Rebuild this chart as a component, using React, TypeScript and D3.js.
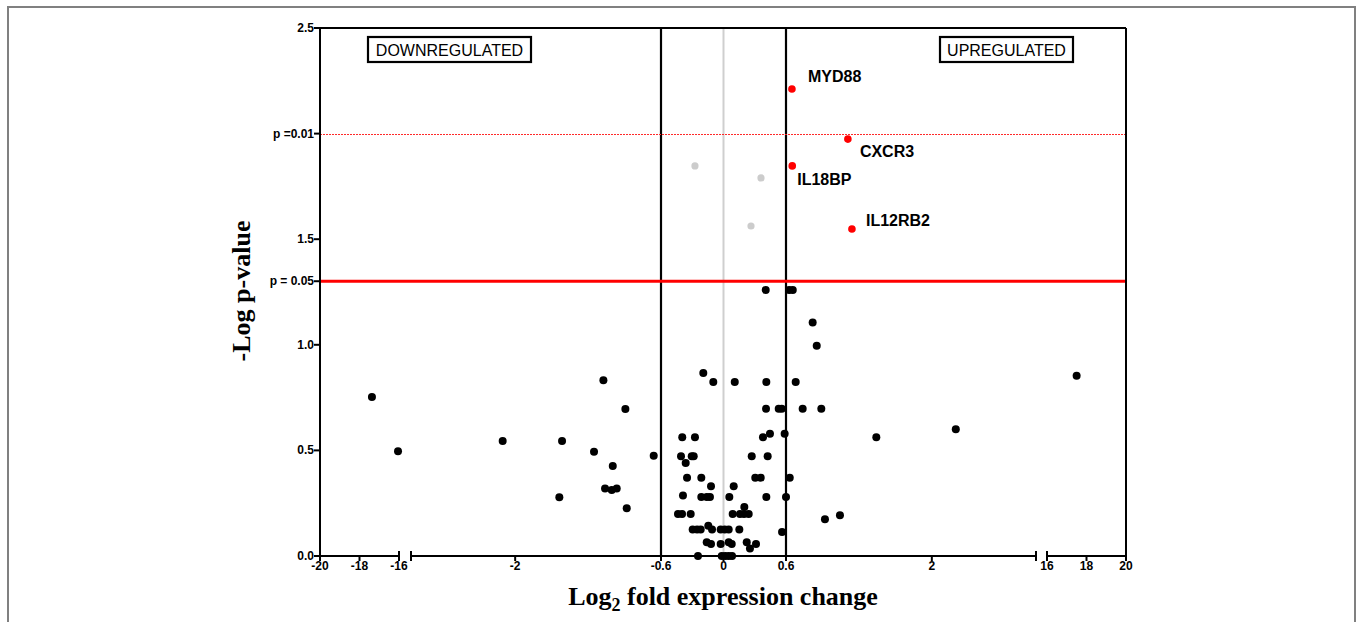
import React from "react";
import * as d3 from "d3";

// ---- data ----
const blackX = [
  0.405, 0.63, 0.665, 0.856, 0.895, -0.194, -0.098, 0.108, 0.411, 0.693,
  0.408, 0.53, 0.559, 0.76, 0.939, -0.396, -0.274, 0.379, 0.446, 0.587,
  1.467, -0.67, -0.408, -0.305, -0.286, -0.363, 0.271, 0.424, -0.35, -0.213,
  0.305, 0.357, 0.636, -0.12, 0.098, -0.389, -0.213, -0.161, -0.13, 0.056,
  0.411, 0.6, 0.2, -0.437, -0.398, -0.315, 0.088, 0.158, 0.197, 0.242,
  0.974, 1.118, -0.296, -0.254, -0.219, -0.146, -0.11, -0.027, 0.012, 0.05,
  0.152, 0.562, -0.161, -0.12, -0.027, 0.05, 0.079, 0.223, 0.312, 0.254,
  -0.245, -0.017, 0.017, 0.05, 0.082,
  -17.37, -16.05, -2.12, -1.55, -1.153, -0.942, -1.243, -1.063, -1.137, -1.073,
  -1.025, -1.576, -0.929, 2.23, 17.5,
];
const blackY = [
  1.259, 1.259, 1.259, 1.105, 0.996, 0.866, 0.824, 0.824, 0.824, 0.824,
  0.697, 0.697, 0.697, 0.697, 0.697, 0.562, 0.562, 0.562, 0.579, 0.579,
  0.562, 0.475, 0.472, 0.472, 0.472, 0.44, 0.472, 0.472, 0.371, 0.371,
  0.371, 0.371, 0.371, 0.33, 0.33, 0.286, 0.279, 0.279, 0.279, 0.279,
  0.279, 0.279, 0.232, 0.199, 0.199, 0.199, 0.199, 0.199, 0.199, 0.199,
  0.174, 0.193, 0.125, 0.125, 0.125, 0.143, 0.125, 0.125, 0.125, 0.125,
  0.125, 0.114, 0.065, 0.057, 0.057, 0.065, 0.057, 0.065, 0.057, 0.035,
  0, 0, 0, 0, 0,
  0.753, 0.496, 0.545, 0.545, 0.832, 0.696, 0.494, 0.426, 0.32, 0.3125,
  0.32, 0.278, 0.226, 0.6, 0.854,
];
const greyX = [-0.274, 0.36, 0.264];
const greyY = [1.847, 1.79, 1.5625];
const geneNames = ["MYD88", "CXCR3", "IL18BP", "IL12RB2"];
const geneX = [0.657, 1.194, 0.66, 1.233];
const geneY = [2.211, 1.974, 1.847, 1.548];
const xTicks = [-20, -18, -16, -2, -0.6, 0, 0.6, 2, 16, 18, 20];
const yTicks = [0, 0.5, 1.0, 1.5, 2.5];
const yTickLabels = ["0.0", "0.5", "1.0", "1.5", "2.5"];
const pThresholds = [0.01, 0.05];
const pLabels = ["p =0.01", "p = 0.05"];
const foldCut = [-0.6, 0.6];

// ---- layout ----
const W = 1360, H = 622;
const left = 320, right = 1126, top = 28, bottom = 556;
const seg1 = d3.scaleLinear().domain([-20, -16]).range([320, 399]);
const seg2 = d3.scaleLinear().domain([-3, 3]).range([411, 1036]);
const seg3 = d3.scaleLinear().domain([16, 20]).range([1047, 1126]);
const xPos = (v: number) => (v <= -10 ? seg1(v) : v >= 10 ? seg3(v) : seg2(v));
const y = d3.scaleLinear().domain([0, 2.5]).range([bottom, top]);

const sans = "'Liberation Sans', Arial, sans-serif";
const serif = "'Liberation Serif', 'Times New Roman', serif";

// label offsets (layout only)
const labelDx = [16, 12, 5, 14];
const labelDy = [-7, 18, 19, -3];

export default function App() {
  const segs = [seg1, seg2, seg3];
  const y01 = Math.round(y(-Math.log10(pThresholds[0]))) + 0.5;
  return (
    <svg
      width={W}
      height={H}
      style={{ position: "fixed", left: 0, top: 0, background: "#fff" }}
    >
      <rect x={8} y={7} width={1347} height={700} fill="#fff" stroke="#808080" strokeWidth={2} />

      {/* zero line */}
      <line x1={xPos(0)} x2={xPos(0)} y1={top} y2={bottom} stroke="#cfcfcf" strokeWidth={2} />
      {/* fold cut lines */}
      {foldCut.map((f) => (
        <line key={f} x1={xPos(f)} x2={xPos(f)} y1={top} y2={bottom} stroke="#000" strokeWidth={2.2} />
      ))}
      {/* p thresholds */}
      <line
        x1={left} x2={right}
        y1={y01} y2={y01}
        stroke="#ff2a2a" strokeWidth={1} strokeDasharray="2,1" shapeRendering="crispEdges"
      />
      <line
        x1={left} x2={right}
        y1={y(-Math.log10(pThresholds[1]))} y2={y(-Math.log10(pThresholds[1]))}
        stroke="#ff0000" strokeWidth={3}
      />

      {/* frame */}
      <line x1={left} x2={right} y1={top} y2={top} stroke="#000" strokeWidth={2} />
      <line x1={right} x2={right} y1={top} y2={bottom} stroke="#000" strokeWidth={2} />
      <line x1={left} x2={left} y1={top} y2={bottom} stroke="#000" strokeWidth={2} />
      {segs.map((s, i) => {
        const [a, b] = s.range();
        return (
          <g key={i}>
            <line x1={a} x2={b} y1={bottom} y2={bottom} stroke="#000" strokeWidth={2} />
            {i > 0 && <line x1={a} x2={a} y1={bottom - 5} y2={bottom + 5} stroke="#000" strokeWidth={2} />}
            {i < 2 && <line x1={b} x2={b} y1={bottom - 5} y2={bottom + 5} stroke="#000" strokeWidth={2} />}
          </g>
        );
      })}

      {/* x ticks */}
      {xTicks.map((t) => (
        <g key={t}>
          <line x1={xPos(t)} x2={xPos(t)} y1={bottom} y2={bottom + 5} stroke="#000" strokeWidth={2} />
          <text x={xPos(t)} y={570} textAnchor="middle" fontFamily={sans} fontWeight="bold" fontSize={12} fill="#000">
            {t}
          </text>
        </g>
      ))}

      {/* y ticks */}
      {yTicks.map((t, i) => (
        <g key={t}>
          <line x1={left - 6} x2={left} y1={y(t)} y2={y(t)} stroke="#000" strokeWidth={2} />
          <text x={left - 6} y={y(t) + 4} textAnchor="end" fontFamily={sans} fontWeight="bold" fontSize={12} fill="#000">
            {yTickLabels[i]}
          </text>
        </g>
      ))}
      {pThresholds.map((p, i) => (
        <g key={p}>
          <line x1={left - 6} x2={left} y1={y(-Math.log10(p))} y2={y(-Math.log10(p))} stroke="#000" strokeWidth={2} />
          <text x={left - 6} y={y(-Math.log10(p)) + 4} textAnchor="end" fontFamily={sans} fontWeight="bold" fontSize={12} fill="#000">
            {pLabels[i]}
          </text>
        </g>
      ))}

      {/* points */}
      {blackX.map((v, i) => (
        <circle key={"b" + i} cx={xPos(v)} cy={y(blackY[i])} r={4} fill="#000" />
      ))}
      {greyX.map((v, i) => (
        <circle key={"g" + i} cx={xPos(v)} cy={y(greyY[i])} r={3.6} fill="#cccccc" />
      ))}
      {geneX.map((v, i) => (
        <g key={"r" + i}>
          <circle cx={xPos(v)} cy={y(geneY[i])} r={3.8} fill="#ff0000" />
          <text
            x={xPos(v) + labelDx[i]}
            y={y(geneY[i]) + labelDy[i]}
            fontFamily={sans}
            fontWeight="bold"
            fontSize={16}
            fill="#000"
          >
            {geneNames[i]}
          </text>
        </g>
      ))}

      {/* region boxes */}
      <rect x={368} y={37} width={163} height={25} fill="#fff" stroke="#000" strokeWidth={2.2} />
      <text x={449.5} y={55.5} textAnchor="middle" fontFamily={sans} fontSize={16} fill="#000">DOWNREGULATED</text>
      <rect x={940} y={37} width={133} height={25} fill="#fff" stroke="#000" strokeWidth={2.2} />
      <text x={1006.5} y={55.5} textAnchor="middle" fontFamily={sans} fontSize={16} fill="#000">UPREGULATED</text>

      {/* axis titles */}
      <text x={723} y={605} textAnchor="middle" fontFamily={serif} fontWeight="bold" fontSize={26} fill="#000">
        Log<tspan fontSize={18} dy={6}>2</tspan><tspan dy={-6}> fold expression change</tspan>
      </text>
      <text
        transform={`translate(250,${291}) rotate(-90)`}
        textAnchor="middle"
        fontFamily={serif}
        fontWeight="bold"
        fontSize={26}
        fill="#000"
      >
        -Log p-value
      </text>
    </svg>
  );
}
